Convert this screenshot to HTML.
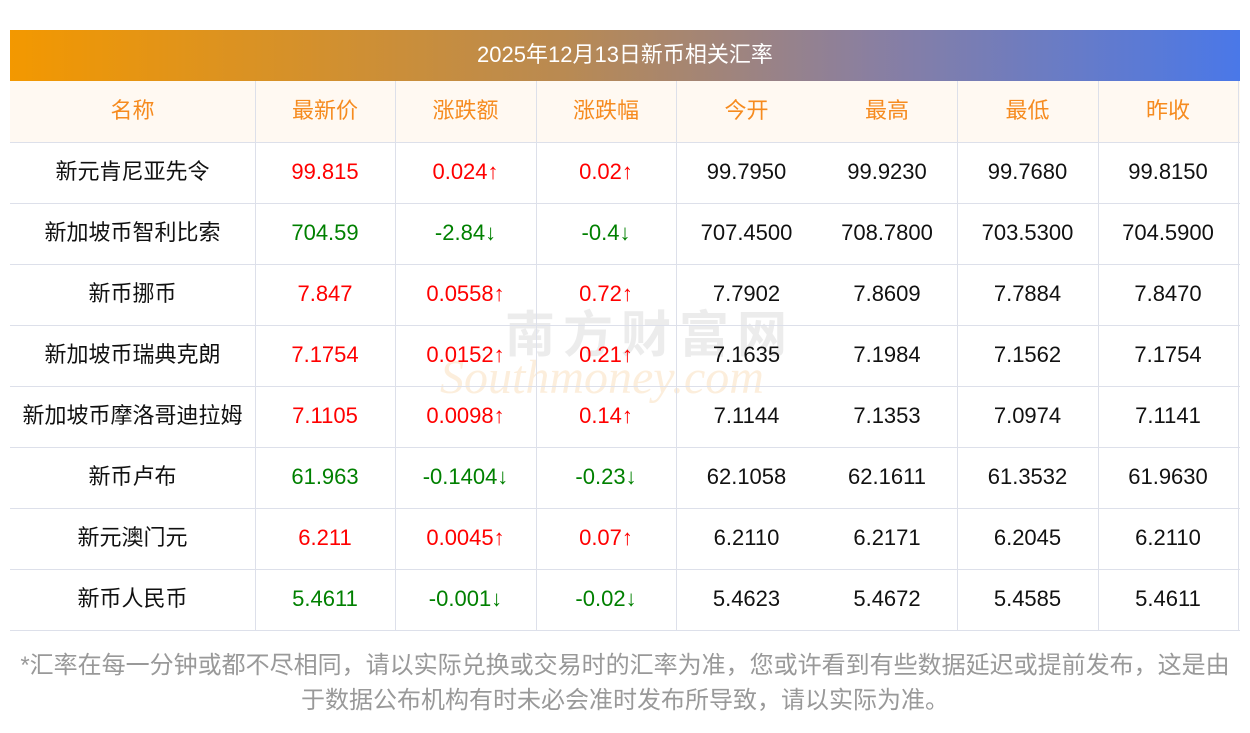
<!DOCTYPE html>
<html><head><meta charset="utf-8"><style>
*{margin:0;padding:0;box-sizing:border-box}
body{width:1250px;height:733px;background:#fff;font-family:"Liberation Sans","Noto Sans CJK SC",sans-serif;position:relative;overflow:hidden}
.title{position:absolute;left:10px;top:30px;width:1230px;height:51px;background:linear-gradient(90deg,#f39800,#b98a52 45%,#8a7fa0 70%,#4a78e8);color:#fff;font-size:22px;text-align:center;line-height:49px}
.hdr{position:absolute;left:10px;top:81px;width:1230px;height:61px;background:#fff9f2}
.c{position:absolute;text-align:center;font-size:22px;line-height:59px}
.h{color:#f68b1f}
.hl{position:absolute;left:10px;width:1230px;height:1px;background:#dde0ea}
.vl{position:absolute;width:1px;top:81px;height:549px;background:#dde0ea}
.r{color:#f00}.g{color:#008000}.k{color:#111}
.note{position:absolute;left:0;width:1250px;top:648px;text-align:center;font-size:24px;line-height:35px;color:#999;white-space:nowrap}
.wm{position:absolute;left:505px;top:295px;font-size:50px;color:rgba(200,200,200,0.35);font-weight:bold;letter-spacing:8px}
.wm2{position:absolute;left:440px;top:350px;font-size:48px;color:rgba(245,200,140,0.3);font-style:italic;font-family:"Liberation Serif",serif}
</style></head><body>
<div class="title">2025年12月13日新币相关汇率</div>
<div class="hdr"></div>
<div class="wm">南方财富网</div>
<div class="wm2">Southmoney.com</div>
<div class="hl" style="top:142px"></div>
<div class="hl" style="top:203px"></div>
<div class="hl" style="top:264px"></div>
<div class="hl" style="top:325px"></div>
<div class="hl" style="top:386px"></div>
<div class="hl" style="top:447px"></div>
<div class="hl" style="top:508px"></div>
<div class="hl" style="top:569px"></div>
<div class="hl" style="top:630px"></div>
<div class="vl" style="left:255px"></div>
<div class="vl" style="left:395px"></div>
<div class="vl" style="left:536px"></div>
<div class="vl" style="left:676px"></div>
<div class="vl" style="left:957px"></div>
<div class="vl" style="left:1098px"></div>
<div class="vl" style="left:1238px"></div>
<div id="t"></div>
<script>
var xs=[10,255,395,536,676,817,957,1098,1238];
var rows=[["名称","最新价","涨跌额","涨跌幅","今开","最高","最低","昨收"],
["新元肯尼亚先令","99.815","0.024↑","0.02↑","99.7950","99.9230","99.7680","99.8150"],
["新加坡币智利比索","704.59","-2.84↓","-0.4↓","707.4500","708.7800","703.5300","704.5900"],
["新币挪币","7.847","0.0558↑","0.72↑","7.7902","7.8609","7.7884","7.8470"],
["新加坡币瑞典克朗","7.1754","0.0152↑","0.21↑","7.1635","7.1984","7.1562","7.1754"],
["新加坡币摩洛哥迪拉姆","7.1105","0.0098↑","0.14↑","7.1144","7.1353","7.0974","7.1141"],
["新币卢布","61.963","-0.1404↓","-0.23↓","62.1058","62.1611","61.3532","61.9630"],
["新元澳门元","6.211","0.0045↑","0.07↑","6.2110","6.2171","6.2045","6.2110"],
["新币人民币","5.4611","-0.001↓","-0.02↓","5.4623","5.4672","5.4585","5.4611"]];
var h="";
rows.forEach(function(r,i){var top=81+i*61;var up=i>0&&r[2].indexOf("↑")>=0;
r.forEach(function(v,j){var cls=i==0?"h":(j==0||j>3?"k":(up?"r":"g"));
h+='<div class="c '+cls+'" style="left:'+xs[j]+'px;width:'+(xs[j+1]-xs[j])+'px;top:'+top+'px">'+v+'</div>';});});
document.getElementById("t").innerHTML=h;
</script>
<div class="note">*汇率在每一分钟或都不尽相同，请以实际兑换或交易时的汇率为准，您或许看到有些数据延迟或提前发布，这是由<br>于数据公布机构有时未必会准时发布所导致，请以实际为准。</div>
</body></html>
